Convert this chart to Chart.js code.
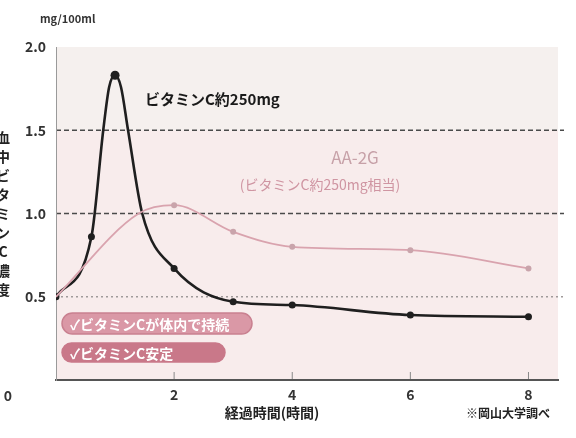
<!DOCTYPE html>
<html>
<head>
<meta charset="utf-8">
<script src="https://cdn.jsdelivr.net/npm/chart.js@4.4.1/dist/chart.umd.min.js"></script>
<style>
  html, body { margin: 0; padding: 0; background: #fff; }
  #wrap { position: relative; width: 576px; height: 438px; }
</style>
</head>
<body>
<div id="wrap"><canvas id="vcChart" width="576" height="438"></canvas></div>
<script>
// vitamin C (plain) curve, hours after intake / mg per 100ml
const vcHours  = [0, 0.6, 0.8, 0.9, 1.0, 1.1, 1.22, 1.46, 2, 3, 4, 6, 8];
const vcLevels = [0.5, 0.86, 1.5, 1.76, 1.83, 1.76, 1.5, 1.0, 0.67, 0.47, 0.45, 0.39, 0.38];
const vcMarked = [1, 1, 0, 0, 1, 0, 0, 0, 1, 1, 1, 1, 1];

// AA-2G curve
const aaHours  = [0, 1.4, 2, 3, 4, 6, 8];
const aaLevels = [0.5, 1.0, 1.05, 0.89, 0.80, 0.78, 0.67];
const aaMarked = [0, 0, 1, 1, 1, 1, 1];

const xTicks = [2, 4, 6, 8];
const yTicks = [0.5, 1.0, 1.5, 2.0];

const JP = "'Noto Sans CJK JP', 'Noto Sans', sans-serif";

// backdrop + reference lines + loose texts
const decorPlugin = {
    id: 'decor',
    beforeDraw(chart) {
        const { ctx, chartArea: a, scales: { x, y } } = chart;
        ctx.save();
        ctx.fillStyle = '#f5f0ee';
        ctx.fillRect(a.left, a.top, a.right - a.left, y.getPixelForValue(1.5) - a.top);
        ctx.fillStyle = '#f8ecec';
        ctx.fillRect(a.left, y.getPixelForValue(1.5), a.right - a.left, a.bottom - y.getPixelForValue(1.5));

        // dashed lines
        ctx.strokeStyle = '#4a4a4a';
        ctx.lineWidth = 1.3;
        ctx.setLineDash([5, 3]);
        [1.5, 1.0].forEach(v => {
            const py = y.getPixelForValue(v);
            ctx.beginPath(); ctx.moveTo(a.left, py); ctx.lineTo(a.right + 6, py); ctx.stroke();
        });
        ctx.strokeStyle = '#a09a9a';
        ctx.setLineDash([2, 3]);
        const p5 = y.getPixelForValue(0.5);
        ctx.beginPath(); ctx.moveTo(a.left, p5); ctx.lineTo(a.right + 6, p5); ctx.stroke();
        ctx.setLineDash([]);

        // small ticks on x axis
        ctx.strokeStyle = '#888';
        ctx.lineWidth = 1;
        xTicks.forEach(t => {
            const px = x.getPixelForValue(t);
            ctx.beginPath(); ctx.moveTo(px, a.bottom); ctx.lineTo(px, a.bottom - 8); ctx.stroke();
        });
        ctx.restore();
    },
    afterDraw(chart) {
        const { ctx } = chart;
        ctx.save();
        ctx.textBaseline = 'middle';

        // unit
        ctx.fillStyle = '#333';
        ctx.font = 'bold 11px ' + JP;
        ctx.textAlign = 'left';
        ctx.fillText('mg/100ml', 40, 19);

        // origin label
        ctx.font = 'bold 14px ' + JP;
        ctx.textAlign = 'center';
        ctx.fillText('0', 8, 396);

        // vertical y title
        ctx.font = 'bold 14px ' + JP;
        ctx.fillStyle = '#222';
        const title = '血中ビタミンC濃度';
        [...title].forEach((ch, i) => ctx.fillText(ch, 3, 138 + i * 19));

        // series labels
        ctx.textAlign = 'left';
        ctx.fillStyle = '#1a1a1a';
        ctx.font = 'bold 15px ' + JP;
        ctx.fillText('ビタミンC約250mg', 145, 99);

        ctx.textAlign = 'center';
        ctx.fillStyle = '#c7a1a8';
        ctx.font = '17px ' + JP;
        ctx.fillText('AA-2G', 355, 158);
        ctx.fillStyle = '#cf95a2';
        ctx.font = '14px ' + JP;
        ctx.fillText('(ビタミンC約250mg相当)', 320, 185);

        // pink badges
        const badge = (text, bx, by, w, h, fill, edge) => {
            ctx.fillStyle = fill;
            ctx.beginPath();
            ctx.roundRect(bx, by, w, h, h / 2);
            ctx.fill();
            ctx.strokeStyle = edge;
            ctx.lineWidth = 1.5;
            ctx.stroke();
            ctx.fillStyle = '#fff';
            ctx.textAlign = 'left';
            ctx.font = 'bold 14px ' + JP;
            ctx.fillText(text, bx + 8, by + h / 2 + 1);
        };
        badge('✓ビタミンCが体内で持続', 62, 313, 190, 21, '#da98a6', '#c98090');
        badge('✓ビタミンC安定', 62, 343, 163, 19, '#c97889', '#c97889');

        // x title and source
        ctx.fillStyle = '#222';
        ctx.textAlign = 'center';
        ctx.font = 'bold 14px ' + JP;
        ctx.fillText('経過時間(時間)', 272, 413);
        ctx.font = 'bold 12px ' + JP;
        ctx.fillText('※岡山大学調べ', 508, 413);
        ctx.restore();
    }
};

const ctx = document.getElementById('vcChart').getContext('2d');
new Chart(ctx, {
    type: 'line',
    data: {
        datasets: [
            {
                label: 'AA-2G',
                data: aaHours.map((h, i) => ({ x: h, y: aaLevels[i] })),
                borderColor: '#d9a3ae',
                backgroundColor: '#c9a4ab',
                borderWidth: 1.8,
                pointRadius: aaMarked.map(m => m ? 3 : 0),
                pointBorderWidth: 0,
                cubicInterpolationMode: 'monotone',
                fill: false
            },
            {
                label: 'ビタミンC',
                data: vcHours.map((h, i) => ({ x: h, y: vcLevels[i] })),
                borderColor: '#1f1f1f',
                backgroundColor: '#1f1f1f',
                borderWidth: 2.6,
                pointRadius: vcMarked.map((m, i) => m ? (vcLevels[i] > 1.8 ? 4.5 : 3.5) : 0),
                pointBorderWidth: 0,
                cubicInterpolationMode: 'monotone',
                fill: false
            }
        ]
    },
    options: {
        responsive: false,
        animation: false,
        layout: { padding: { left: 0, right: 18, top: 47, bottom: 38 } },
        plugins: {
            legend: { display: false },
            tooltip: { enabled: false }
        },
        scales: {
            x: {
                type: 'linear',
                min: 0,
                max: 8.5,
                afterBuildTicks: s => { s.ticks = xTicks.map(v => ({ value: v })); },
                afterFit: s => { s.height = 20; },
                grid: { display: false, drawTicks: false },
                border: { display: true, color: '#555', width: 2 },
                ticks: {
                    padding: 6,
                    color: '#333',
                    font: { family: JP, size: 14, weight: 'bold' }
                }
            },
            y: {
                min: 0,
                max: 2.0,
                afterBuildTicks: s => { s.ticks = yTicks.map(v => ({ value: v })); },
                afterFit: s => { s.width = 56; },
                grid: { display: false, drawTicks: false },
                border: { display: true, color: '#9a9a9a', width: 1 },
                ticks: {
                    padding: 10,
                    color: '#333',
                    font: { family: JP, size: 14, weight: 'bold' },
                    callback: v => v.toFixed(1)
                }
            }
        }
    },
    plugins: [decorPlugin]
});
</script>
</body>
</html>
